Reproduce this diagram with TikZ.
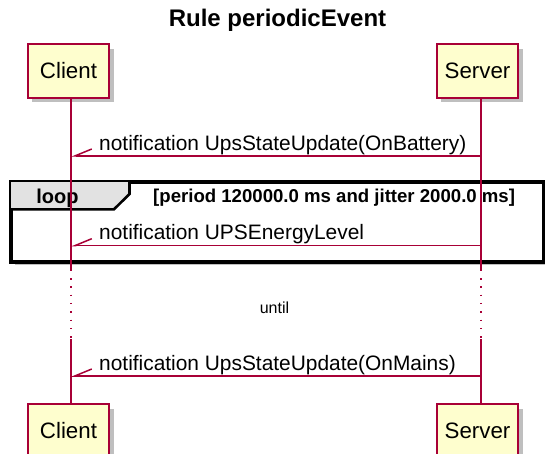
\documentclass[tikz,border=0pt]{standalone}
\usepackage{fontspec}
\setmainfont{Liberation Sans}
\usetikzlibrary{arrows.meta,shadows}
\definecolor{pbord}{HTML}{A80036}
\definecolor{pfill}{HTML}{FEFECE}
\definecolor{tabfill}{HTML}{E2E2E2}
\tikzset{
  part/.style={draw=pbord, fill=pfill, line width=2.2pt, minimum width=81.6pt,
    minimum height=53.4pt, inner sep=0pt, font=\fontsize{22.3}{26}\selectfont,
    drop shadow={shadow xshift=4.5pt, shadow yshift=-4.5pt, fill=black, opacity=0.25}},
  lifeln/.style={draw=pbord, line width=1.5pt},
  dotln/.style={draw=pbord, line width=1.5pt, dash pattern=on 1.5pt off 6.8pt},
  msg/.style={draw=pbord, line width=1.5pt, -{Straight Barb[right,length=17pt,width=14pt,line width=1.5pt]}},
  msgtxt/.style={anchor=base west, inner sep=0pt, font=\fontsize{20.9}{24}\selectfont},
  frametxt/.style={inner sep=0pt, font=\bfseries\fontsize{18.6}{22}\selectfont},
}
\begin{document}
\begin{tikzpicture}[x=1pt,y=-1pt]
\useasboundingbox (0,0) rectangle (545,454);
\clip (0,0) rectangle (545,454);
\fill[white] (0,0) rectangle (545,454);

% title
\node[anchor=base, inner sep=0pt, font=\bfseries\fontsize{24}{28}\selectfont] (title) at (277.5,27) {Rule periodicEvent};

% loop frame
\node[draw=black, fill=white, line width=2.6pt, minimum width=532pt, minimum height=79pt,
  inner sep=0pt, anchor=north west,
  drop shadow={shadow xshift=4pt, shadow yshift=-4pt, fill=black, opacity=0.25}] (frame) at (10,181) {};
\fill[tabfill] (10,181) -- (129.5,181) -- (129.5,194) -- (114,209.3) -- (10,209.3) -- cycle;
\draw[line width=2.6pt, line join=miter] (129.5,181) -- (129.5,194) -- (114,209.3) -- (10,209.3);
\draw[line width=2.6pt] (frame.north west) rectangle (frame.south east);
\node[frametxt, anchor=base, font=\bfseries\fontsize{20}{24}\selectfont] (looplbl) at (57.5,203.5) {loop};
\node[frametxt, anchor=base west] (cond) at (153,202) {[period 120000.0 ms and jitter 2000.0 ms]};

% participants
\node[part] (ctop) at (68.5,71) {Client};
\node[part] (stop) at (477.5,71) {Server};
\node[part] (cbot) at (68.5,430.7) {Client};
\node[part] (sbot) at (477.5,430.7) {Server};

% lifeline points
\coordinate (c0) at (71,97.7);  \coordinate (c1) at (71,271);
\coordinate (c2) at (71,278);   \coordinate (c3) at (71,338);
\coordinate (c4) at (71,339);   \coordinate (c5) at (71,404);
\coordinate (s0) at (481,97.7); \coordinate (s1) at (481,271);
\coordinate (s2) at (481,278);  \coordinate (s3) at (481,338);
\coordinate (s4) at (481,339);  \coordinate (s5) at (481,404);
\draw[lifeln] (c0) -- (c1);  \draw[dotln] (c2) -- (c3);  \draw[lifeln] (c4) -- (c5);
\draw[lifeln] (s0) -- (s1);  \draw[dotln] (s2) -- (s3);  \draw[lifeln] (s4) -- (s5);

% messages
\coordinate (m1s) at (481,156);   \coordinate (m1c) at (71,156);
\coordinate (m2s) at (481,245.7); \coordinate (m2c) at (71,245.7);
\coordinate (m3s) at (481,376);   \coordinate (m3c) at (71,376);
\draw[msg] (m1s) -- (m1c);
\draw[msg] (m2s) -- (m2c);
\draw[msg] (m3s) -- (m3c);
\node[msgtxt] (t1) at (99,150.3) {notification UpsStateUpdate(OnBattery)};
\node[msgtxt] (t2) at (99,239.5) {notification UPSEnergyLevel};
\node[msgtxt] (t3) at (99,370.3) {notification UpsStateUpdate(OnMains)};

% until
\node[anchor=base, inner sep=0pt, font=\fontsize{16}{19}\selectfont] (until) at (274.5,313) {until};
\end{tikzpicture}
\end{document}
